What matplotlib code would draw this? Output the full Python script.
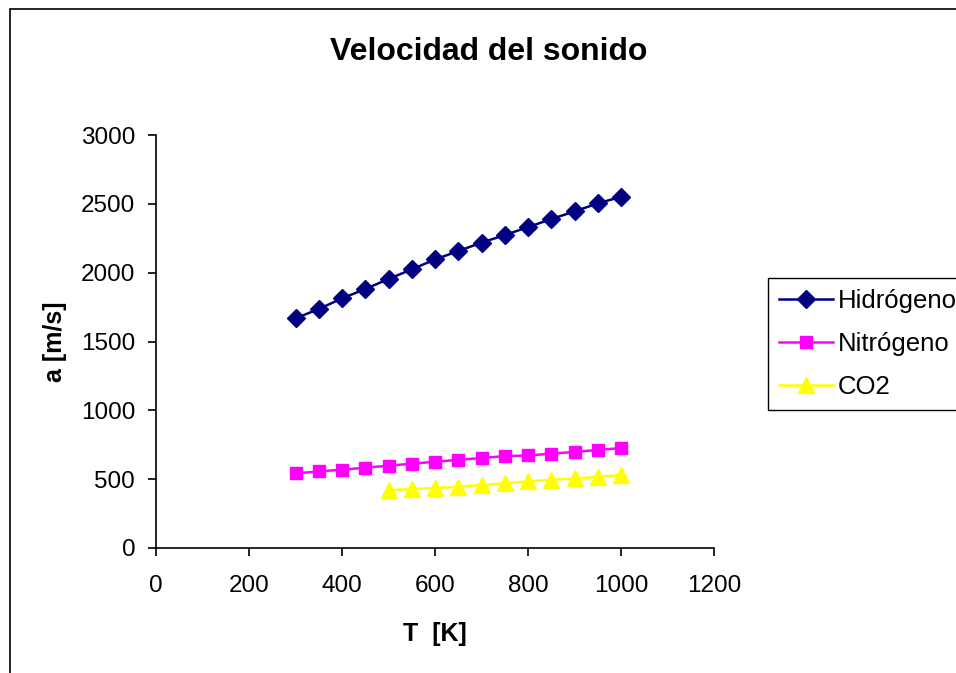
import matplotlib
matplotlib.use("Agg")
import matplotlib.pyplot as plt
from matplotlib.patches import Rectangle

plt.rcParams['font.family'] = ['Liberation Sans', 'DejaVu Sans']

# temperaturas [K]
t_h2 = [300, 350, 400, 450, 500, 550, 600, 650, 700, 750, 800, 850, 900, 950, 1000]
t_n2 = [300, 350, 400, 450, 500, 550, 600, 650, 700, 750, 800, 850, 900, 950, 1000]
t_co2 = [500, 550, 600, 650, 700, 750, 800, 850, 900, 950, 1000]

# velocidad del sonido [m/s]
a_h2 = [1668, 1736, 1813, 1881, 1954, 2024, 2096, 2157, 2218, 2273, 2331, 2389, 2445, 2503, 2551]
a_n2 = [542, 556, 569, 583, 598, 612, 627, 640, 654, 667, 672, 685, 698, 712, 726]
a_co2 = [420, 428, 436, 446, 458, 470, 484, 496, 505, 516, 532]

labels = ["Hidrógeno", "Nitrógeno", "CO2"]

W, H = 956, 673
fig = plt.figure(figsize=(W / 100, H / 100), dpi=100)
ax = fig.add_axes([156 / W, 1 - 548 / H, (714 - 156) / W, (548 - 135) / H])

ax.plot(t_h2, a_h2, color="#000080", marker="D", ms=9, lw=1.8, label=labels[0])
ax.plot(t_n2, a_n2, color="#FF00FF", marker="s", ms=8.5, lw=1.8, label=labels[1])
ax.plot(t_co2, a_co2, color="#FFFF00", marker="^", ms=11, lw=1.8, label=labels[2])

ax.set_xlim(0, 1200)
ax.set_ylim(0, 3000)
ax.set_xticks(range(0, 1201, 200))
ax.set_yticks(range(0, 3001, 500))
ax.spines["top"].set_visible(False)
ax.spines["right"].set_visible(False)
for s in ("left", "bottom"):
    ax.spines[s].set_linewidth(1.2)
ax.tick_params(direction="out", length=6, width=1.2, labelsize=17.5, pad=9)
ax.tick_params(axis="x", pad=13.5)

fig.text(489 / W, 1 - 52 / H, "Velocidad del sonido", fontsize=23,
         fontweight="bold", ha="center", va="center")
ax.set_xlabel("T  [K]", fontsize=18, fontweight="bold", labelpad=18)
ax.set_ylabel("a [m/s]", fontsize=18, fontweight="bold", labelpad=10)

fig.legend(loc="upper left", bbox_to_anchor=(768 / W, 1 - 278 / H),
           fontsize=18.5, frameon=True, fancybox=False, edgecolor="black",
           handlelength=2.1, handletextpad=0.2, labelspacing=0.74,
           borderpad=0.42, borderaxespad=0, framealpha=1)

# marco del gráfico
fig.patches.append(Rectangle((9.5 / W, -0.05), 1.2, (H - 9.5) / H + 0.05,
                             transform=fig.transFigure, fill=False,
                             edgecolor="black", linewidth=1.2))

fig.savefig("out.png", dpi=100)
